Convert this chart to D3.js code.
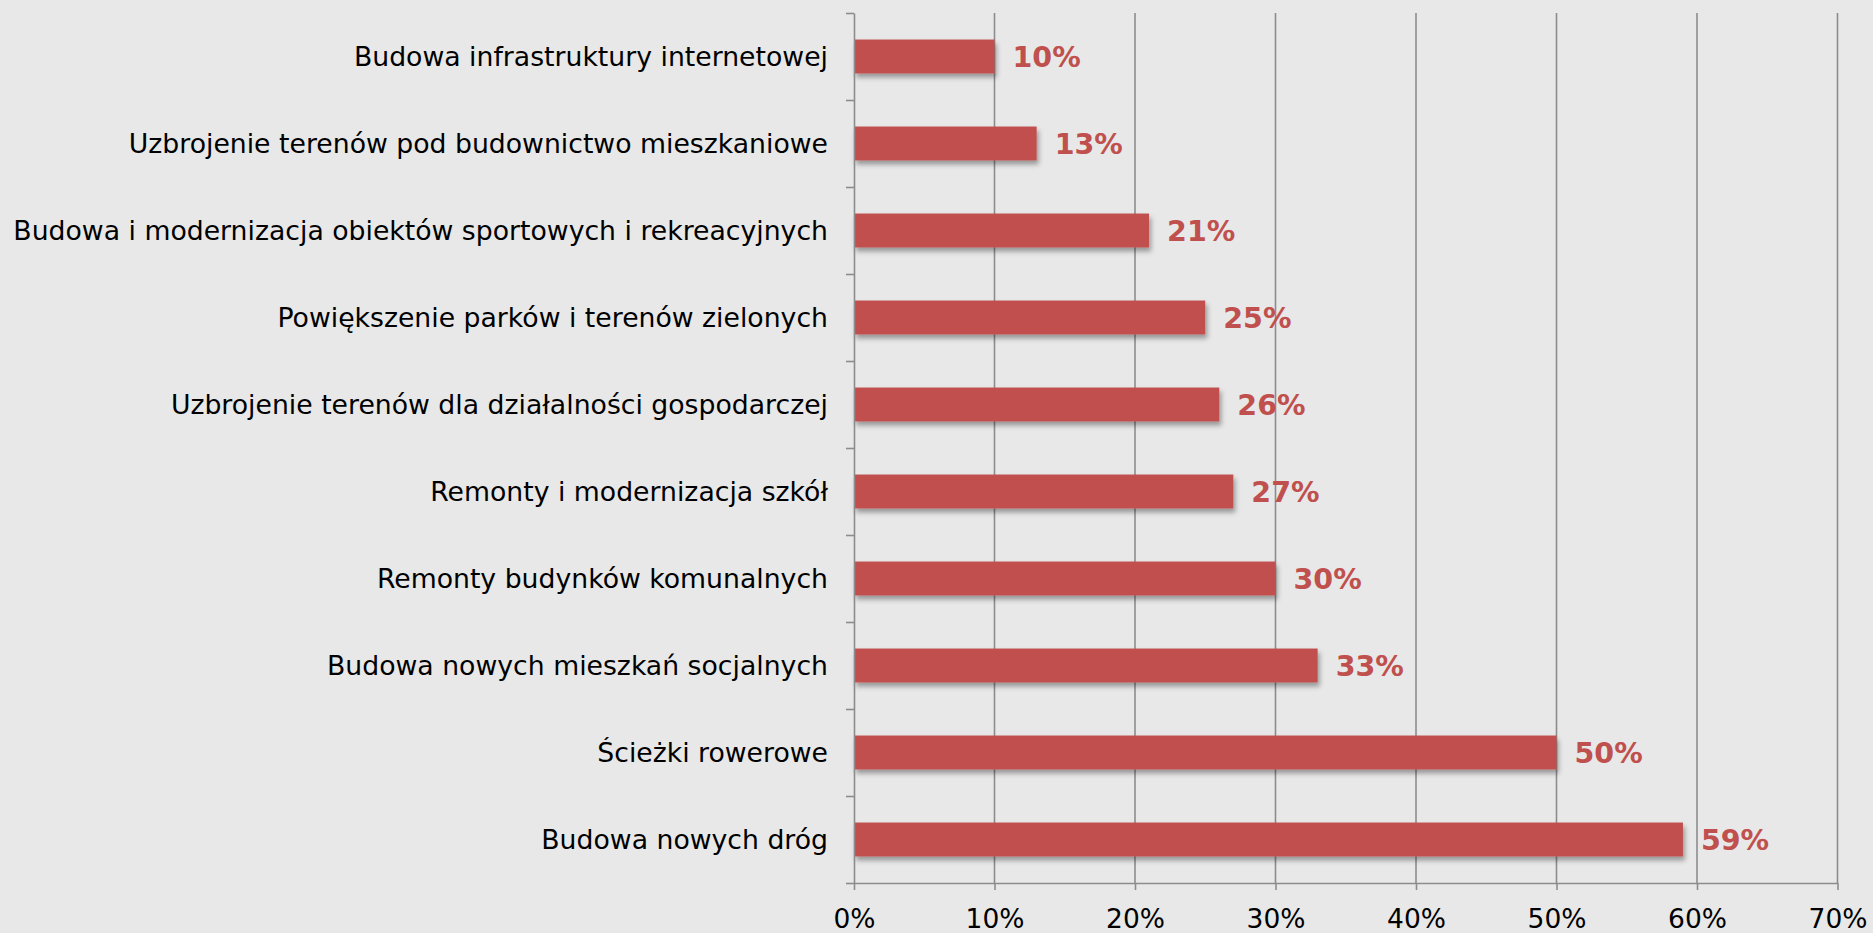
<!DOCTYPE html>
<html>
<head>
<meta charset="utf-8">
<script src="https://cdn.jsdelivr.net/npm/d3@7"></script>
<style>
  html, body { margin: 0; padding: 0; background: #E8E8E8; }
  svg { display: block; }
</style>
</head>
<body>
<svg id="chart" width="1873" height="933"></svg>
<script>
const categories = [
  "Budowa infrastruktury internetowej",
  "Uzbrojenie terenów pod budownictwo mieszkaniowe",
  "Budowa i modernizacja obiektów sportowych i rekreacyjnych",
  "Powiększenie parków i terenów zielonych",
  "Uzbrojenie terenów dla działalności gospodarczej",
  "Remonty i modernizacja szkół",
  "Remonty budynków komunalnych",
  "Budowa nowych mieszkań socjalnych",
  "Ścieżki rowerowe",
  "Budowa nowych dróg"
];
const values = [0.10, 0.13, 0.21, 0.25, 0.26, 0.27, 0.30, 0.33, 0.50, 0.59];
const xTicks = [0, 0.1, 0.2, 0.3, 0.4, 0.5, 0.6, 0.7];

(function () {
const svg = d3.select("#chart");
const W = 1873, H = 933;
svg.append("rect").attr("width", W).attr("height", H).attr("fill", "#E8E8E8");

const mLeft = 854, mRight = 1837.5, mTop = 13, mBottom = 883;
const font = "'DejaVu Sans', Verdana, sans-serif";
const gridColor = "#8C8C8C";
const barColor = "#C0504D";
const labelSize = 26.7;

const x = d3.scaleLinear().domain([0, 0.7]).range([mLeft, mRight]);
const y = d3.scaleBand().domain(categories).range([mTop, mBottom]).paddingInner(0.61).paddingOuter(0.305);
const yEdge = d3.scaleLinear().domain([0, categories.length]).range([mTop, mBottom]);

const defs = svg.append("defs");
const f = defs.append("filter").attr("id", "shadow").attr("x", "-5%").attr("y", "-30%").attr("width", "110%").attr("height", "180%");
f.append("feDropShadow").attr("dx", 2).attr("dy", 4).attr("stdDeviation", 2.5)
  .attr("flood-color", "#000").attr("flood-opacity", 0.35);

// vertical gridlines
svg.append("g").selectAll("line").data(xTicks.filter(d => d > 0)).join("line")
  .attr("x1", d => x(d)).attr("x2", d => x(d))
  .attr("y1", mTop).attr("y2", mBottom)
  .attr("stroke", gridColor).attr("stroke-width", 1.6);

// bars
svg.append("g").selectAll("rect").data(values).join("rect")
  .attr("x", x(0))
  .attr("y", (d, i) => y(categories[i]))
  .attr("width", d => x(d) - x(0))
  .attr("height", y.bandwidth())
  .attr("fill", barColor)
  .attr("filter", "url(#shadow)");

// left axis with ticks at category boundaries
const yAxis = svg.append("g").attr("transform", `translate(${mLeft},0)`)
  .call(d3.axisLeft(yEdge).tickValues(d3.range(categories.length + 1)).tickFormat("").tickSize(8).tickSizeOuter(0));
yAxis.select(".domain").attr("stroke", gridColor).attr("stroke-width", 1.6);
yAxis.selectAll(".tick line").attr("stroke", gridColor).attr("stroke-width", 1.6);

// bottom axis
const xAxis = svg.append("g").attr("transform", `translate(0,${mBottom})`)
  .call(d3.axisBottom(x).tickValues(xTicks).tickFormat(d3.format(".0%")).tickSize(7).tickPadding(19).tickSizeOuter(0));
xAxis.select(".domain").attr("stroke", gridColor).attr("stroke-width", 1.6);
xAxis.selectAll(".tick line").attr("stroke", gridColor).attr("stroke-width", 1.6);
xAxis.selectAll(".tick text").attr("font-family", font).attr("font-size", 26.5).attr("fill", "#000");

// category labels
svg.append("g").selectAll("text").data(categories).join("text")
  .attr("x", 828)
  .attr("y", d => y(d) + y.bandwidth() / 2 + 0.5)
  .attr("dy", "0.35em")
  .attr("text-anchor", "end")
  .attr("font-family", font).attr("font-size", labelSize).attr("fill", "#000")
  .text(d => d);

// value labels
svg.append("g").selectAll("text").data(values).join("text")
  .attr("x", d => x(d) + 18)
  .attr("y", (d, i) => y(categories[i]) + y.bandwidth() / 2 + 1)
  .attr("dy", "0.35em")
  .attr("font-family", font).attr("font-size", 28.5).attr("font-weight", "bold").attr("fill", barColor)
  .text(d => d3.format(".0%")(d));
})();
</script>
</body>
</html>
